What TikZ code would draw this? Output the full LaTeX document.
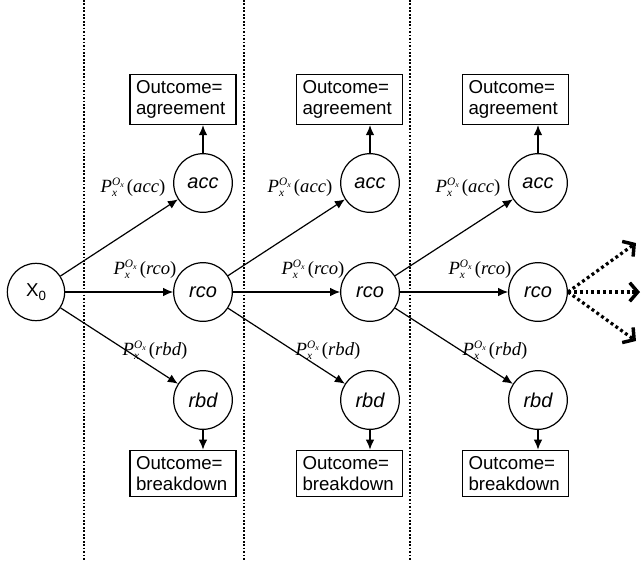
\documentclass[tikz,border=0pt]{standalone}
\usepackage{fontspec}
\setmainfont{Liberation Sans}
\newfontfamily\lser{Liberation Serif}
\usetikzlibrary{arrows.meta}
\newcommand{\plab}[1]{{\lser\fontsize{14}{15}\selectfont\itshape P\rlap{\raisebox{-0.5ex}{\fontsize{8.5}{8.5}\selectfont x}}\raisebox{0.8ex}{\fontsize{8.5}{8.5}\selectfont O\raisebox{-0.4ex}{\fontsize{6}{6}\selectfont x}}\,\upshape(\itshape #1\upshape)}}
\begin{document}
\begin{tikzpicture}[x=0.75pt,y=-0.75pt,
  st/.style={circle,draw,line width=0.9pt,minimum size=44pt,inner sep=0pt,font=\fontsize{15}{16}\selectfont\itshape},
  st0/.style={circle,draw,line width=0.9pt,minimum size=43pt,inner sep=0pt,font=\fontsize{14}{16}\selectfont},
  outbox/.style={draw,line width=0.9pt,minimum width=79.5pt,minimum height=35pt,inner sep=4.5pt,text width=70.5pt,align=left,font=\fontsize{14}{16}\selectfont},
  arr/.style={line width=0.9pt,-{Latex[length=7.5pt,width=6.5pt]}},
  sep/.style={line width=1.5pt,dash pattern=on 1.3pt off 1.3pt},
  darr/.style={line width=2.4pt,dash pattern=on 2.2pt off 2.2pt,-{Straight Barb[length=6pt,width=14pt,line width=2.6pt]}},
  lab/.style={inner sep=0pt}]
\useasboundingbox (0,0) rectangle (644,561);
\draw[sep] (84,0) -- (84,561);
\draw[sep] (244,0) -- (244,561);
\draw[sep] (410,0) -- (410,561);
\node[st0] (x0) at (36,292) {X\raisebox{-0.45ex}{\fontsize{10}{10}\selectfont 0}};
\foreach \i/\cx/\bx in {1/203/183, 2/370/349.5, 3/538/515.5}{
  \node[st] (acc\i) at (\cx,183) {acc};
  \node[st] (rco\i) at (\cx,292) {rco};
  \node[st] (rbd\i) at (\cx,400) {rbd};
  \node[outbox] (agr\i) at (\bx,99.5) {Outcome=\\agreement};
  \node[outbox] (brk\i) at (\bx,473.5) {Outcome=\\breakdown};
  \draw[arr] (acc\i) -- (acc\i |- agr\i.south);
  \draw[arr] (rbd\i) -- (rbd\i |- brk\i.north);
}
\draw[arr] (x0) -- (acc1);
\draw[arr] (x0) -- (rco1);
\draw[arr] (x0) -- (rbd1);
\draw[arr] (rco1) -- (acc2);
\draw[arr] (rco1) -- (rco2);
\draw[arr] (rco1) -- (rbd2);
\draw[arr] (rco2) -- (acc3);
\draw[arr] (rco2) -- (rco3);
\draw[arr] (rco2) -- (rbd3);
\node[lab] (la1) at (133,187) {\plab{acc}};
\node[lab] (lr1) at (145,269) {\plab{rco}};
\node[lab] (lb1) at (155,350) {\plab{rbd}};
\node[lab] (la2) at (300,187) {\plab{acc}};
\node[lab] (lr2) at (313,269) {\plab{rco}};
\node[lab] (lb2) at (328,350) {\plab{rbd}};
\node[lab] (la3) at (468,187) {\plab{acc}};
\node[lab] (lr3) at (480,269) {\plab{rco}};
\node[lab] (lb3) at (495,350) {\plab{rbd}};
\coordinate (e1) at (636,243);
\coordinate (e2) at (640,292);
\coordinate (e3) at (636,341);
\draw[darr] (rco3.east) -- (e1);
\draw[darr] (rco3.east) -- (e2);
\draw[darr] (rco3.east) -- (e3);
\end{tikzpicture}
\end{document}
